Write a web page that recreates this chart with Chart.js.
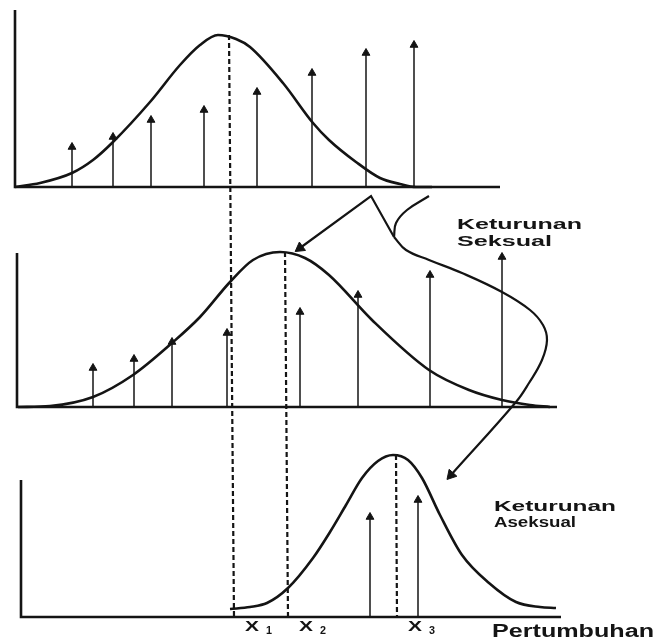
<!DOCTYPE html>
<html>
<head>
<meta charset="utf-8">
<script src="https://cdn.jsdelivr.net/npm/chart.js@4"></script>
<style>
  html, body { margin: 0; padding: 0; background: #fff; }
  canvas { display: block; }
</style>
</head>
<body>
<canvas id="myChart" width="658" height="640"></canvas>
<script>
// growth (x) and frequency (height above each panel's baseline)
const growth1 = [15, 40, 72, 93, 113, 150, 180, 200, 218, 236, 250, 283, 313, 329, 356, 380, 400, 416, 432];
const freq1 = [0, 4, 14, 27, 45, 85, 122, 142, 152, 148, 140, 104, 64, 47, 25, 9, 3, 0, 0];
const arrowX1 = [72, 113, 151, 204, 257, 312, 366, 414];
const arrowH1 = [40, 50, 67, 77, 95, 114, 134, 142];

const growth2 = [18, 50, 93, 133, 172, 200, 230, 253, 280, 305, 329, 372, 429, 469, 502, 530, 550];
const freq2 = [0, 1, 10, 32, 64, 90, 125, 147, 155, 149, 132, 87, 37, 17, 7, 2, 0];
const arrowX2 = [93, 134, 172, 227, 300, 358, 430, 502];
const arrowH2 = [39, 48, 65, 74, 95, 112, 132, 150];

const growth3 = [230, 250, 267, 288, 313, 330, 346, 362, 378, 393, 408, 422, 440, 462, 489, 516, 540, 556];
const freq3 = [8, 10, 14, 29, 59, 85, 112, 139, 156, 162, 157, 139, 102, 62, 34, 15, 10, 9];
const arrowX3 = [370, 418];
const arrowH3 = [100, 117];

// means X1, X2, X3 (dashed lines, measured on the bottom panel)
const meanNames = ["X", "X", "X"];
const meanSubs = ["1", "2", "3"];
const meanTopX = [229, 285, 396];
const meanBottomX = [234, 288, 397];
const meanTop = [582, 365, 162];

// connector arrows between panels (panel 2 units)
const sexualX = [300, 371, 394];
const sexualY = [159, 211, 170];
const branchX = [429, 407, 396, 394];
const branchY = [211, 197, 184, 170];
const loopX = [394, 406, 429, 462, 502, 530, 543, 547, 542, 529, 516, 451];
const loopY = [170, 157, 147, 134, 115, 97, 82, 67, 47, 24, 5, -68];

const ink = "#141414";

const pts = (xs, ys) => xs.map((x, i) => ({ x: x, y: ys[i] }));

const line = (xs, ys, axis, extra) =>
  Object.assign(
    {
      data: pts(xs, ys),
      yAxisID: axis,
      showLine: true,
      borderColor: ink,
      borderWidth: 2.6,
      pointRadius: 0,
      tension: 0,
      clip: false,
    },
    extra
  );

const bell = (xs, ys, axis) => line(xs, ys, axis, { tension: 0.4, cubicInterpolationMode: "monotone" });

const arrows = (xs, hs, axis) =>
  xs.map((x, i) =>
    line([x, x], [0, hs[i]], axis, {
      borderWidth: 1.5,
      pointStyle: "triangle",
      pointRadius: [0, 4.5],
      pointBackgroundColor: ink,
      pointBorderColor: ink,
      pointBorderWidth: 1,
    })
  );

const axes = [
  line([15, 15, 500], [177, 0, 0], "y1"),
  line([17, 17, 557], [154, 0, 0], "y2"),
  line([21, 21, 561], [137, 0, 0], "y3"),
];

const means = meanTopX.map((x, i) =>
  line([x, meanBottomX[i]], [meanTop[i], 0], "y3", { borderWidth: 2.2, borderDash: [5, 3] })
);

const heads = {
  data: [
    { x: sexualX[0], y: sexualY[0] },
    { x: loopX[loopX.length - 1], y: loopY[loopY.length - 1] },
  ],
  yAxisID: "y2",
  pointStyle: "triangle",
  pointRadius: 6,
  rotation: [234, 222],
  pointBackgroundColor: ink,
  pointBorderColor: ink,
  clip: false,
};

const datasets = [
  ...axes,
  bell(growth1, freq1, "y1"),
  bell(growth2, freq2, "y2"),
  bell(growth3, freq3, "y3"),
  ...arrows(arrowX1, arrowH1, "y1"),
  ...arrows(arrowX2, arrowH2, "y2"),
  ...arrows(arrowX3, arrowH3, "y3"),
  ...means,
  line(sexualX, sexualY, "y2", { borderWidth: 2.2 }),
  line(branchX, branchY, "y2", { borderWidth: 2.2, tension: 0.4 }),
  line(loopX, loopY, "y2", { borderWidth: 2.2, tension: 0.4 }),
  heads,
];

// stretch bold text to the wide lettering of the scan
const stretched = (ctx, text, x, y, size, width) => {
  ctx.font = "bold " + size + "px 'Liberation Sans', Arial, sans-serif";
  const w = ctx.measureText(text).width;
  ctx.save();
  ctx.translate(x, y);
  ctx.scale(width / w, 1);
  ctx.fillText(text, 0, 0);
  ctx.restore();
};

const labelPlugin = {
  id: "labels",
  afterDatasetsDraw(chart) {
    const { ctx, scales } = chart;
    const px = (v) => scales.x.getPixelForValue(v);
    ctx.save();
    ctx.fillStyle = ink;
    ctx.textBaseline = "middle";
    stretched(ctx, "Keturunan", px(457), scales.y2.getPixelForValue(182), 15, 125);
    stretched(ctx, "Seksual", px(457), scales.y2.getPixelForValue(165), 15, 95);
    stretched(ctx, "Keturunan", px(494), scales.y3.getPixelForValue(110), 15, 122);
    stretched(ctx, "Aseksual", px(494), scales.y3.getPixelForValue(94), 15, 82);
    stretched(ctx, "Pertumbuhan", px(492), scales.y3.getPixelForValue(-15), 18, 162);
    meanNames.forEach((name, i) => {
      const x = px(meanBottomX[i] + 11);
      stretched(ctx, name, x, scales.y3.getPixelForValue(-10), 15, 14);
      stretched(ctx, meanSubs[i], x + 21, scales.y3.getPixelForValue(-14), 10, 6);
    });
    ctx.restore();
  },
};

const config = {
  type: "scatter",
  data: { datasets: datasets },
  options: {
    responsive: false,
    animation: false,
    events: [],
    layout: { padding: 0, autoPadding: false },
    plugins: { legend: { display: false }, tooltip: { enabled: false } },
    scales: {
      x: { type: "linear", min: 0, max: 658, display: false },
      y1: { type: "linear", min: 187 - 640, max: 187, display: false },
      y2: { type: "linear", min: 407 - 640, max: 407, display: false },
      y3: { type: "linear", min: 617 - 640, max: 617, display: false },
    },
  },
  plugins: [labelPlugin],
};

const myChart = new Chart(document.getElementById("myChart"), config);
</script>
</body>
</html>
